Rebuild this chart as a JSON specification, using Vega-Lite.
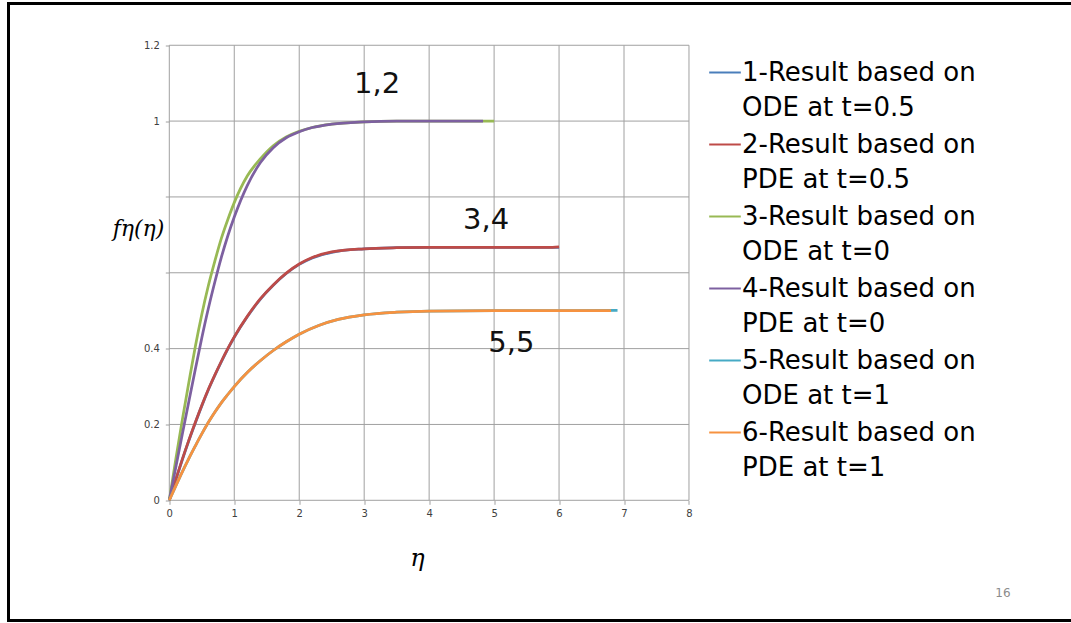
{
  "$schema": "https://vega.github.io/schema/vega-lite/v6.json",
  "autosize": "none",
  "padding": {"left": 8.5, "top": 3.5, "right": 0, "bottom": 2.5},
  "width": 1062.5,
  "height": 617,
  "background": "white",
  "config": {
    "view": {"stroke": "black", "strokeWidth": 3, "strokeDash": [1062.5, 617, 2000], "fill": "white"},
    "axis": {"labelFont": "DejaVu Sans", "labelFontSize": 10, "labelColor": "#404040", "tickColor": "#a0a0a0", "tickSize": 4, "grid": false, "domain": false}
  },
  "datasets": {
    "curves": [
      {"series": "1-Result based on|ODE at t=0.5", "eta": 0, "f": 0},
      {"series": "1-Result based on|ODE at t=0.5", "eta": 0.1, "f": 0.054},
      {"series": "1-Result based on|ODE at t=0.5", "eta": 0.2, "f": 0.107},
      {"series": "1-Result based on|ODE at t=0.5", "eta": 0.3, "f": 0.157},
      {"series": "1-Result based on|ODE at t=0.5", "eta": 0.4, "f": 0.204},
      {"series": "1-Result based on|ODE at t=0.5", "eta": 0.5, "f": 0.249},
      {"series": "1-Result based on|ODE at t=0.5", "eta": 0.6, "f": 0.291},
      {"series": "1-Result based on|ODE at t=0.5", "eta": 0.7, "f": 0.329},
      {"series": "1-Result based on|ODE at t=0.5", "eta": 0.8, "f": 0.365},
      {"series": "1-Result based on|ODE at t=0.5", "eta": 0.9, "f": 0.399},
      {"series": "1-Result based on|ODE at t=0.5", "eta": 1.0, "f": 0.43},
      {"series": "1-Result based on|ODE at t=0.5", "eta": 1.2, "f": 0.484},
      {"series": "1-Result based on|ODE at t=0.5", "eta": 1.4, "f": 0.53},
      {"series": "1-Result based on|ODE at t=0.5", "eta": 1.6, "f": 0.567},
      {"series": "1-Result based on|ODE at t=0.5", "eta": 1.8, "f": 0.598},
      {"series": "1-Result based on|ODE at t=0.5", "eta": 2.0, "f": 0.622},
      {"series": "1-Result based on|ODE at t=0.5", "eta": 2.2, "f": 0.639},
      {"series": "1-Result based on|ODE at t=0.5", "eta": 2.5, "f": 0.654},
      {"series": "1-Result based on|ODE at t=0.5", "eta": 3.0, "f": 0.663},
      {"series": "1-Result based on|ODE at t=0.5", "eta": 3.5, "f": 0.666},
      {"series": "1-Result based on|ODE at t=0.5", "eta": 4.0, "f": 0.667},
      {"series": "1-Result based on|ODE at t=0.5", "eta": 5.0, "f": 0.667},
      {"series": "1-Result based on|ODE at t=0.5", "eta": 6.0, "f": 0.667},

      {"series": "2-Result based on|PDE at t=0.5", "eta": 0, "f": 0},
      {"series": "2-Result based on|PDE at t=0.5", "eta": 0.1, "f": 0.055},
      {"series": "2-Result based on|PDE at t=0.5", "eta": 0.2, "f": 0.108},
      {"series": "2-Result based on|PDE at t=0.5", "eta": 0.3, "f": 0.158},
      {"series": "2-Result based on|PDE at t=0.5", "eta": 0.4, "f": 0.205},
      {"series": "2-Result based on|PDE at t=0.5", "eta": 0.5, "f": 0.25},
      {"series": "2-Result based on|PDE at t=0.5", "eta": 0.6, "f": 0.292},
      {"series": "2-Result based on|PDE at t=0.5", "eta": 0.7, "f": 0.33},
      {"series": "2-Result based on|PDE at t=0.5", "eta": 0.8, "f": 0.366},
      {"series": "2-Result based on|PDE at t=0.5", "eta": 0.9, "f": 0.4},
      {"series": "2-Result based on|PDE at t=0.5", "eta": 1.0, "f": 0.431},
      {"series": "2-Result based on|PDE at t=0.5", "eta": 1.2, "f": 0.485},
      {"series": "2-Result based on|PDE at t=0.5", "eta": 1.4, "f": 0.531},
      {"series": "2-Result based on|PDE at t=0.5", "eta": 1.6, "f": 0.568},
      {"series": "2-Result based on|PDE at t=0.5", "eta": 1.8, "f": 0.599},
      {"series": "2-Result based on|PDE at t=0.5", "eta": 2.0, "f": 0.623},
      {"series": "2-Result based on|PDE at t=0.5", "eta": 2.2, "f": 0.64},
      {"series": "2-Result based on|PDE at t=0.5", "eta": 2.5, "f": 0.655},
      {"series": "2-Result based on|PDE at t=0.5", "eta": 3.0, "f": 0.663},
      {"series": "2-Result based on|PDE at t=0.5", "eta": 3.5, "f": 0.666},
      {"series": "2-Result based on|PDE at t=0.5", "eta": 4.0, "f": 0.667},
      {"series": "2-Result based on|PDE at t=0.5", "eta": 5.0, "f": 0.667},
      {"series": "2-Result based on|PDE at t=0.5", "eta": 5.9, "f": 0.667},
      {"series": "2-Result based on|PDE at t=0.5", "eta": 6.0, "f": 0.668},

      {"series": "3-Result based on|ODE at t=0", "eta": 0, "f": 0},
      {"series": "3-Result based on|ODE at t=0", "eta": 0.1, "f": 0.108},
      {"series": "3-Result based on|ODE at t=0", "eta": 0.2, "f": 0.212},
      {"series": "3-Result based on|ODE at t=0", "eta": 0.3, "f": 0.31},
      {"series": "3-Result based on|ODE at t=0", "eta": 0.4, "f": 0.405},
      {"series": "3-Result based on|ODE at t=0", "eta": 0.5, "f": 0.49},
      {"series": "3-Result based on|ODE at t=0", "eta": 0.6, "f": 0.565},
      {"series": "3-Result based on|ODE at t=0", "eta": 0.7, "f": 0.63},
      {"series": "3-Result based on|ODE at t=0", "eta": 0.8, "f": 0.69},
      {"series": "3-Result based on|ODE at t=0", "eta": 0.9, "f": 0.74},
      {"series": "3-Result based on|ODE at t=0", "eta": 1.0, "f": 0.785},
      {"series": "3-Result based on|ODE at t=0", "eta": 1.2, "f": 0.855},
      {"series": "3-Result based on|ODE at t=0", "eta": 1.4, "f": 0.9},
      {"series": "3-Result based on|ODE at t=0", "eta": 1.6, "f": 0.935},
      {"series": "3-Result based on|ODE at t=0", "eta": 1.8, "f": 0.958},
      {"series": "3-Result based on|ODE at t=0", "eta": 2.0, "f": 0.973},
      {"series": "3-Result based on|ODE at t=0", "eta": 2.2, "f": 0.983},
      {"series": "3-Result based on|ODE at t=0", "eta": 2.5, "f": 0.992},
      {"series": "3-Result based on|ODE at t=0", "eta": 3.0, "f": 0.998},
      {"series": "3-Result based on|ODE at t=0", "eta": 3.5, "f": 1.0},
      {"series": "3-Result based on|ODE at t=0", "eta": 4.0, "f": 1.0},
      {"series": "3-Result based on|ODE at t=0", "eta": 4.5, "f": 1.0},
      {"series": "3-Result based on|ODE at t=0", "eta": 5.0, "f": 1.0},

      {"series": "4-Result based on|PDE at t=0", "eta": 0, "f": 0},
      {"series": "4-Result based on|PDE at t=0", "eta": 0.1, "f": 0.087},
      {"series": "4-Result based on|PDE at t=0", "eta": 0.2, "f": 0.174},
      {"series": "4-Result based on|PDE at t=0", "eta": 0.3, "f": 0.26},
      {"series": "4-Result based on|PDE at t=0", "eta": 0.4, "f": 0.345},
      {"series": "4-Result based on|PDE at t=0", "eta": 0.5, "f": 0.428},
      {"series": "4-Result based on|PDE at t=0", "eta": 0.6, "f": 0.505},
      {"series": "4-Result based on|PDE at t=0", "eta": 0.7, "f": 0.575},
      {"series": "4-Result based on|PDE at t=0", "eta": 0.8, "f": 0.64},
      {"series": "4-Result based on|PDE at t=0", "eta": 0.9, "f": 0.697},
      {"series": "4-Result based on|PDE at t=0", "eta": 1.0, "f": 0.747},
      {"series": "4-Result based on|PDE at t=0", "eta": 1.2, "f": 0.83},
      {"series": "4-Result based on|PDE at t=0", "eta": 1.4, "f": 0.89},
      {"series": "4-Result based on|PDE at t=0", "eta": 1.6, "f": 0.93},
      {"series": "4-Result based on|PDE at t=0", "eta": 1.8, "f": 0.956},
      {"series": "4-Result based on|PDE at t=0", "eta": 2.0, "f": 0.972},
      {"series": "4-Result based on|PDE at t=0", "eta": 2.2, "f": 0.983},
      {"series": "4-Result based on|PDE at t=0", "eta": 2.5, "f": 0.992},
      {"series": "4-Result based on|PDE at t=0", "eta": 3.0, "f": 0.998},
      {"series": "4-Result based on|PDE at t=0", "eta": 3.5, "f": 1.0},
      {"series": "4-Result based on|PDE at t=0", "eta": 4.0, "f": 1.0},
      {"series": "4-Result based on|PDE at t=0", "eta": 4.83, "f": 1.0},

      {"series": "5-Result based on|ODE at t=1", "eta": 0, "f": 0},
      {"series": "5-Result based on|ODE at t=1", "eta": 0.1, "f": 0.038},
      {"series": "5-Result based on|ODE at t=1", "eta": 0.2, "f": 0.075},
      {"series": "5-Result based on|ODE at t=1", "eta": 0.3, "f": 0.11},
      {"series": "5-Result based on|ODE at t=1", "eta": 0.4, "f": 0.143},
      {"series": "5-Result based on|ODE at t=1", "eta": 0.5, "f": 0.175},
      {"series": "5-Result based on|ODE at t=1", "eta": 0.6, "f": 0.205},
      {"series": "5-Result based on|ODE at t=1", "eta": 0.7, "f": 0.232},
      {"series": "5-Result based on|ODE at t=1", "eta": 0.8, "f": 0.257},
      {"series": "5-Result based on|ODE at t=1", "eta": 0.9, "f": 0.279},
      {"series": "5-Result based on|ODE at t=1", "eta": 1.0, "f": 0.3},
      {"series": "5-Result based on|ODE at t=1", "eta": 1.2, "f": 0.337},
      {"series": "5-Result based on|ODE at t=1", "eta": 1.4, "f": 0.368},
      {"series": "5-Result based on|ODE at t=1", "eta": 1.6, "f": 0.395},
      {"series": "5-Result based on|ODE at t=1", "eta": 1.8, "f": 0.418},
      {"series": "5-Result based on|ODE at t=1", "eta": 2.0, "f": 0.438},
      {"series": "5-Result based on|ODE at t=1", "eta": 2.3, "f": 0.461},
      {"series": "5-Result based on|ODE at t=1", "eta": 2.6, "f": 0.477},
      {"series": "5-Result based on|ODE at t=1", "eta": 3.0, "f": 0.489},
      {"series": "5-Result based on|ODE at t=1", "eta": 3.5, "f": 0.496},
      {"series": "5-Result based on|ODE at t=1", "eta": 4.0, "f": 0.499},
      {"series": "5-Result based on|ODE at t=1", "eta": 5.0, "f": 0.5},
      {"series": "5-Result based on|ODE at t=1", "eta": 6.0, "f": 0.5},
      {"series": "5-Result based on|ODE at t=1", "eta": 6.9, "f": 0.501},

      {"series": "6-Result based on|PDE at t=1", "eta": 0, "f": 0},
      {"series": "6-Result based on|PDE at t=1", "eta": 0.1, "f": 0.038},
      {"series": "6-Result based on|PDE at t=1", "eta": 0.2, "f": 0.075},
      {"series": "6-Result based on|PDE at t=1", "eta": 0.3, "f": 0.11},
      {"series": "6-Result based on|PDE at t=1", "eta": 0.4, "f": 0.143},
      {"series": "6-Result based on|PDE at t=1", "eta": 0.5, "f": 0.175},
      {"series": "6-Result based on|PDE at t=1", "eta": 0.6, "f": 0.205},
      {"series": "6-Result based on|PDE at t=1", "eta": 0.7, "f": 0.232},
      {"series": "6-Result based on|PDE at t=1", "eta": 0.8, "f": 0.257},
      {"series": "6-Result based on|PDE at t=1", "eta": 0.9, "f": 0.279},
      {"series": "6-Result based on|PDE at t=1", "eta": 1.0, "f": 0.3},
      {"series": "6-Result based on|PDE at t=1", "eta": 1.2, "f": 0.337},
      {"series": "6-Result based on|PDE at t=1", "eta": 1.4, "f": 0.368},
      {"series": "6-Result based on|PDE at t=1", "eta": 1.6, "f": 0.395},
      {"series": "6-Result based on|PDE at t=1", "eta": 1.8, "f": 0.418},
      {"series": "6-Result based on|PDE at t=1", "eta": 2.0, "f": 0.438},
      {"series": "6-Result based on|PDE at t=1", "eta": 2.3, "f": 0.461},
      {"series": "6-Result based on|PDE at t=1", "eta": 2.6, "f": 0.477},
      {"series": "6-Result based on|PDE at t=1", "eta": 3.0, "f": 0.489},
      {"series": "6-Result based on|PDE at t=1", "eta": 3.5, "f": 0.496},
      {"series": "6-Result based on|PDE at t=1", "eta": 4.0, "f": 0.499},
      {"series": "6-Result based on|PDE at t=1", "eta": 5.0, "f": 0.5},
      {"series": "6-Result based on|PDE at t=1", "eta": 6.0, "f": 0.5},
      {"series": "6-Result based on|PDE at t=1", "eta": 6.8, "f": 0.5}
    ],
    "gridx": [{"g": 0}, {"g": 1}, {"g": 2}, {"g": 3}, {"g": 4}, {"g": 5}, {"g": 6}, {"g": 7}, {"g": 8}],
    "gridy": [{"h": 0}, {"h": 0.2}, {"h": 0.4}, {"h": 0.6}, {"h": 0.8}, {"h": 1.0}, {"h": 1.2}],
    "notes": [
      {"eta": 3.2, "f": 1.098, "text": "1,2"},
      {"eta": 4.876, "f": 0.739, "text": "3,4"},
      {"eta": 5.266, "f": 0.414, "text": "5,5"}
    ],
    "page": [{"eta": 12.834, "f": -0.2445, "text": "16"}]
  },
  "layer": [
    {
      "data": {"name": "gridx"},
      "mark": {"type": "rule", "color": "#a0a0a0", "strokeWidth": 1},
      "encoding": {
        "x": {"field": "g", "type": "quantitative", "scale": {"domain": [-2.4754, 13.881], "nice": false, "zero": false},
              "axis": {"orient": "bottom", "offset": -120.2, "values": [0, 1, 2, 3, 4, 5, 6, 7, 8], "format": "d", "labelPadding": 4,
                       "title": "η", "titleFont": "DejaVu Serif", "titleFontStyle": "italic", "titleFontWeight": "normal", "titleFontSize": 24, "titleColor": "black",
                       "titleX": 408.5, "titleY": 57.7, "titleAlign": "center", "titleBaseline": "middle"}},
        "y": {"datum": 0, "type": "quantitative", "scale": {"domain": [-0.317, 1.3101], "nice": false, "zero": false},
              "axis": {"orient": "left", "offset": -160.8, "values": [0, 0.2, 0.4, 0.6, 0.8, 1, 1.2], "format": "~g",
                       "labelExpr": "datum.value == 0.6 || datum.value == 0.8 ? '' : datum.label", "labelPadding": 6,
                       "title": "fη(η)", "titleFont": "DejaVu Serif", "titleFontStyle": "italic", "titleFontWeight": "normal", "titleFontSize": 22, "titleColor": "black",
                       "titleAngle": 0, "titleX": -31.3, "titleY": 224.5, "titleAlign": "center", "titleBaseline": "middle"}},
        "y2": {"datum": 1.2}
      }
    },
    {
      "data": {"name": "gridy"},
      "mark": {"type": "rule", "color": "#a0a0a0", "strokeWidth": 1},
      "encoding": {
        "y": {"field": "h", "type": "quantitative"},
        "x": {"datum": 0, "type": "quantitative"},
        "x2": {"datum": 8}
      }
    },
    {
      "data": {"name": "curves"},
      "mark": {"type": "line", "strokeWidth": 2.75, "interpolate": "monotone"},
      "encoding": {
        "x": {"field": "eta", "type": "quantitative"},
        "y": {"field": "f", "type": "quantitative"},
        "color": {
          "field": "series", "type": "nominal",
          "scale": {"range": ["#4A7EBB", "#BE4B48", "#98B954", "#7D60A0", "#46AAC5", "#F69240"]},
          "legend": {
            "title": null, "orient": "none", "legendX": 699.5, "legendY": 52,
            "padding": 0, "symbolType": "stroke", "symbolSize": 1000, "symbolStrokeWidth": 2,
            "labelExpr": "split(datum.label, '|')", "labelFont": "DejaVu Sans", "labelFontSize": 26,
            "labelColor": "black", "labelLimit": 400, "labelOffset": 0, "rowPadding": 7,
            "encode": {"labels": {"update": {"lineHeight": {"value": 35}}}}
          }
        }
      }
    },
    {
      "data": {"name": "notes"},
      "mark": {"type": "text", "font": "DejaVu Sans", "fontSize": 29, "color": "#111111", "align": "center", "baseline": "middle"},
      "encoding": {
        "x": {"field": "eta", "type": "quantitative"},
        "y": {"field": "f", "type": "quantitative"},
        "text": {"field": "text"}
      }
    },
    {
      "data": {"name": "page"},
      "mark": {"type": "text", "font": "DejaVu Sans", "fontSize": 12, "color": "#8c8c8c", "align": "center", "baseline": "middle"},
      "encoding": {
        "x": {"field": "eta", "type": "quantitative"},
        "y": {"field": "f", "type": "quantitative"},
        "text": {"field": "text"}
      }
    }
  ]
}
